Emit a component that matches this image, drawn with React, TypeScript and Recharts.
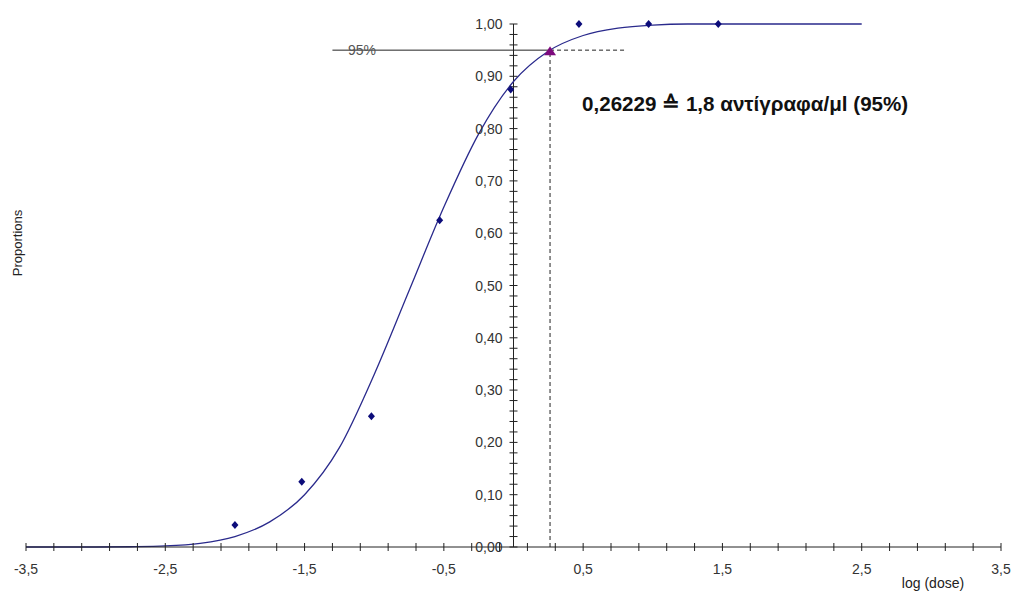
import { ComposedChart, Line, Scatter, XAxis, YAxis, ReferenceLine } from 'recharts'

// observed proportions at each log(dose)
const doseLog = [-2.0, -1.52, -1.02, -0.53, -0.02, 0.47, 0.97, 1.47]
const observed = [0.042, 0.125, 0.25, 0.625, 0.875, 1.0, 1.0, 1.0]

// fitted probit curve
const curveX = [-3.5, -3.25, -3.0, -2.75, -2.5, -2.25, -2.0, -1.75, -1.5, -1.25, -1.0, -0.75, -0.5, -0.25, 0, 0.25, 0.5, 0.75, 1.0, 1.25, 1.5, 2.0, 2.5]
const curveY = [0, 0, 0, 0.0005, 0.002, 0.007, 0.02, 0.048, 0.1, 0.19, 0.33, 0.49, 0.65, 0.79, 0.89, 0.948, 0.978, 0.992, 0.998, 1.0, 1.0, 1.0, 1.0]

const cutoffX = 0.26229
const cutoffY = 0.95

const xLabels = [-3.5, -2.5, -1.5, -0.5, 0.5, 1.5, 2.5, 3.5]
const yLabels = [0, 0.1, 0.2, 0.3, 0.4, 0.5, 0.6, 0.7, 0.8, 0.9, 1.0]

const xTicks = Array.from({ length: 36 }, (_, i) => Math.round((-3.5 + i * 0.2) * 100) / 100)
const yTickMarks = Array.from({ length: 51 }, (_, i) => Math.round(i * 2) / 100)

const curve = curveX.map((x, i) => ({ x, p: curveY[i] }))
const points = doseLog.map((x, i) => ({ x, p: observed[i] }))
const cutoff = [{ x: cutoffX, p: cutoffY }]
const yTickData = yTickMarks.map(v => ({ x: 0, p: v, major: yLabels.some(l => Math.abs(l - v) < 1e-6) }))

const FONT = '"Liberation Sans", Arial, sans-serif'
const fmt = (v: number, d: number) => v.toFixed(d).replace('.', ',')

const renderXTick = (props: any) => {
    const { x, y, payload } = props
    const v = payload.value
    const labelled = xLabels.some(l => Math.abs(l - v) < 1e-6)
    return (
        <g>
            <line x1={x} x2={x} y1={y - 4} y2={y + 4} stroke="#222" />
            {labelled && (
                <text x={x} y={y + 27} textAnchor="middle" fontSize={14} fontFamily={FONT} fill="#333">
                    {fmt(v, 1)}
                </text>
            )}
        </g>
    )
}

const renderYTick = (props: any) => {
    const { cx, cy, payload } = props
    return (
        <g>
            <line x1={cx - 4} x2={cx + 4} y1={cy} y2={cy} stroke="#222" />
            {payload.major && (
                <text x={cx - 11} y={cy} dy="0.36em" textAnchor="end" fontSize={14} fontFamily={FONT} fill="#333">
                    {fmt(payload.p, 2)}
                </text>
            )}
        </g>
    )
}

const renderDiamond = (props: any) => {
    const { cx, cy } = props
    return <polygon points={`${cx},${cy - 4} ${cx + 3.5},${cy} ${cx},${cy + 4} ${cx - 3.5},${cy}`} fill="#0c0c7a" />
}

const renderTriangle = (props: any) => {
    const { cx, cy } = props
    return <polygon points={`${cx},${cy - 4} ${cx + 6},${cy + 5} ${cx - 6},${cy + 5}`} fill="#7d0a7d" />
}

export default function App() {
    return (
        <div style={{ position: 'absolute', left: 0, top: 0, width: 1013, height: 592, background: '#fff', overflow: 'hidden' }}>
            <ComposedChart width={1013} height={592} margin={{ top: 24, right: 12, bottom: 0, left: 26 }}>
                <XAxis
                    type="number"
                    dataKey="x"
                    domain={[-3.5, 3.5]}
                    ticks={xTicks}
                    interval={0}
                    tickSize={0}
                    tickMargin={0}
                    tickLine={false}
                    axisLine={{ stroke: '#222' }}
                    tick={renderXTick}
                    height={45}
                />
                <YAxis type="number" dataKey="p" domain={[0, 1]} hide />
                <ReferenceLine x={0} stroke="#222" />
                <ReferenceLine segment={[{ x: -1.3, y: cutoffY }, { x: cutoffX, y: cutoffY }]} stroke="#222" />
                <ReferenceLine segment={[{ x: cutoffX, y: cutoffY }, { x: 0.8, y: cutoffY }]} stroke="#222" strokeDasharray="4 3" />
                <ReferenceLine segment={[{ x: cutoffX, y: 0 }, { x: cutoffX, y: cutoffY }]} stroke="#222" strokeDasharray="4 3" />
                <Scatter data={yTickData} dataKey="p" shape={renderYTick} isAnimationActive={false} />
                <Line data={curve} dataKey="p" type="monotone" stroke="#2a2a8c" strokeWidth={1.3} dot={false} isAnimationActive={false} />
                <Scatter data={points} dataKey="p" shape={renderDiamond} isAnimationActive={false} />
                <Scatter data={cutoff} dataKey="p" shape={renderTriangle} isAnimationActive={false} />
            </ComposedChart>
            <svg width={1013} height={592} style={{ position: 'absolute', left: 0, top: 0, pointerEvents: 'none' }}>
                <text x={348} y={55} fontSize={14} fontFamily={FONT} fill="#555">95%</text>
                <text x={582} y={111} fontSize={20.6} fontWeight="bold" fontFamily={FONT} fill="#111">
                    0,26229 ≙ 1,8 αντίγραφα/μl (95%)
                </text>
                <text x={933} y={588} textAnchor="middle" fontSize={14} fontFamily={FONT} fill="#222">log (dose)</text>
                <text x={22} y={243} textAnchor="middle" fontSize={13} fontFamily={FONT} fill="#222" transform="rotate(-90 22 243)">Proportions</text>
            </svg>
        </div>
    )
}
